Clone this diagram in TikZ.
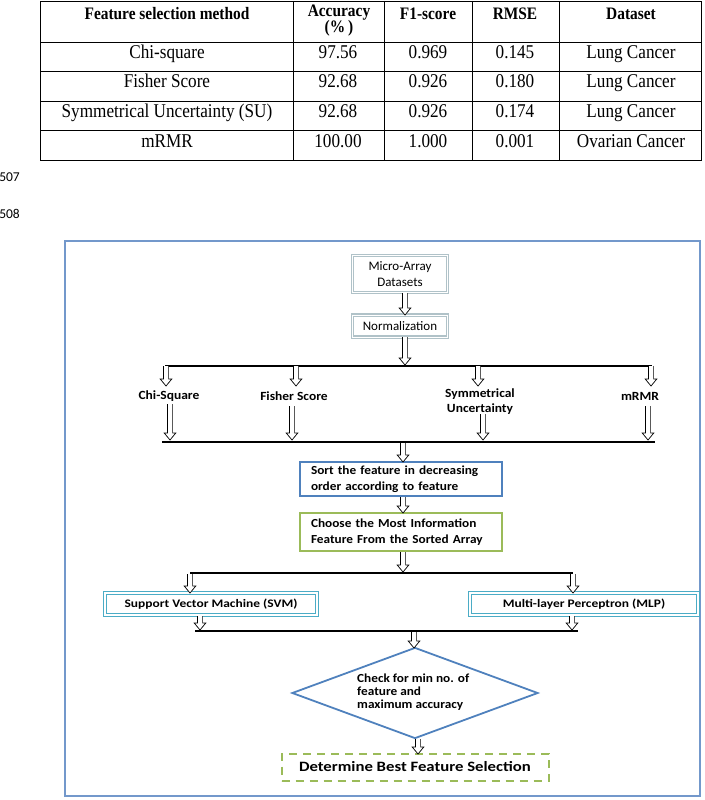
\documentclass[tikz,border=0pt]{standalone}
\usepackage{fontspec}
\setmainfont{Liberation Serif}
\newfontfamily\tabfont[FakeStretch=0.88]{Liberation Serif}
\newfontfamily\flowfont{Carlito}
\newfontfamily\flowwide[FakeStretch=1.08]{Carlito}
\newfontfamily\flowwider[FakeStretch=1.17]{Carlito}
\usetikzlibrary{calc,shapes.geometric}
\definecolor{frameblue}{HTML}{7398CB}
\definecolor{boxblue}{HTML}{4F81BD}
\definecolor{boxgreen}{HTML}{9BBB59}
\definecolor{boxteal}{HTML}{4BACC6}
\definecolor{boxgray}{HTML}{B0C2C8}
\tikzset{
  tabline/.style={line width=0.8pt, draw=black},
  tabbody/.style={font=\tabfont\fontsize{19.5}{20}\selectfont, anchor=base, inner sep=0},
  tabhead/.style={font=\tabfont\bfseries\fontsize{17.5}{16}\selectfont, anchor=base, inner sep=0, align=center},
  flowtxt/.style={font=\flowwide\bfseries\fontsize{12.5}{15}\selectfont, inner sep=0, align=center},
  flowreg/.style={font=\flowfont\fontsize{13}{16}\selectfont, align=center},
  graybox/.style={draw=boxgray, line width=1.3pt, double=white, double distance=1pt, fill=white, inner sep=0},
  bluebox/.style={draw=boxblue, line width=2pt, fill=white, inner sep=0, inner xsep=11pt, align=left,
     font=\flowwide\bfseries\fontsize{12.3}{16}\selectfont},
  greenbox/.style={bluebox, draw=boxgreen},
  tealbox/.style={draw=boxteal, line width=1.6pt, double=white, double distance=1.2pt, fill=white, inner sep=0,
     font=\flowwider\bfseries\fontsize{11.5}{15}\selectfont},
  bar/.style={line width=2.7pt, draw=black},
  harrow/.style={draw=black, line width=0.7pt, fill=white,
    to path={let \p1=(\tikztostart), \p2=(\tikztotarget) in
      (\x1-2.6pt,\y1) -- (\x1-2.6pt,\y2+7pt) -- (\x1-5.8pt,\y2+7pt) -- (\x1,\y2)
      -- (\x1+5.8pt,\y2+7pt) -- (\x1+2.6pt,\y2+7pt) -- (\x1+2.6pt,\y1)}}
}
\begin{document}
\begin{tikzpicture}[x=1pt,y=-1pt]
\useasboundingbox (0,0) rectangle (704,800);
% ---------- table ----------
\draw[tabline] (40,1) rectangle (701,160);
\foreach \yy in {42,71,101,130} \draw[tabline] (40,\yy) -- (701,\yy);
\foreach \xx in {293,384,472,559} \draw[tabline] (\xx,1) -- (\xx,160);
\node[tabhead] (h1) at (167,20) {Feature selection method};
\node[tabhead, anchor=north] (h2) at (339,5) {Accuracy\\(\%\,)};
\node[tabhead] (h3) at (428,20) {F1-score};
\node[tabhead] (h4) at (515,20) {RMSE};
\node[tabhead] (h5) at (631,20) {Dataset};
\node[tabbody] (r1a) at (167,59) {Chi-square};
\node[tabbody] (r1b) at (338,59) {97.56};
\node[tabbody] (r1c) at (428,59) {0.969};
\node[tabbody] (r1d) at (515,59) {0.145};
\node[tabbody] (r1e) at (631,59) {Lung Cancer};
\node[tabbody] (r2a) at (167,88) {Fisher Score};
\node[tabbody] (r2b) at (338,88) {92.68};
\node[tabbody] (r2c) at (428,88) {0.926};
\node[tabbody] (r2d) at (515,88) {0.180};
\node[tabbody] (r2e) at (631,88) {Lung Cancer};
\node[tabbody] (r3a) at (167,117) {Symmetrical Uncertainty (SU)};
\node[tabbody] (r3b) at (338,117) {92.68};
\node[tabbody] (r3c) at (428,117) {0.926};
\node[tabbody] (r3d) at (515,117) {0.174};
\node[tabbody] (r3e) at (631,117) {Lung Cancer};
\node[tabbody] (r4a) at (167,147) {mRMR};
\node[tabbody] (r4b) at (338,147) {100.00};
\node[tabbody] (r4c) at (428,147) {1.000};
\node[tabbody] (r4d) at (515,147) {0.001};
\node[tabbody] (r4e) at (631,147) {Ovarian Cancer};
% ---------- line numbers ----------
\node[font=\flowfont\fontsize{13.5}{14}\selectfont, anchor=east, inner sep=0] (l507) at (20,177) {507};
\node[font=\flowfont\fontsize{13.5}{14}\selectfont, anchor=east, inner sep=0] (l508) at (20,214) {508};
% ---------- flowchart frame ----------
\draw[frameblue, line width=1.3pt] (65,241) rectangle (700,796);
% boxes
\node[graybox, minimum width=95pt, minimum height=37pt, flowreg] (micro) at (400,274) {Micro-Array\\Datasets};
\node[graybox, minimum width=95pt, minimum height=22pt, flowreg] (norm) at (400,326) {Normalization};
\node[bluebox, minimum width=202pt, minimum height=34pt, text width=180pt] (sort) at (401,479)
  {Sort the feature in decreasing\\order according to feature};
\node[greenbox, minimum width=202pt, minimum height=38pt, text width=180pt] (choose) at (401,532)
  {Choose the Most Information\\Feature From the Sorted Array};
\node[tealbox, minimum width=212pt, minimum height=22pt] (svm) at (211,604) {Support Vector Machine (SVM)};
\node[tealbox, minimum width=228pt, minimum height=22pt] (mlp) at (584,604) {Multi-layer Perceptron (MLP)};
\node[diamond, draw=boxblue, line width=1.8pt, minimum width=246pt, minimum height=91pt, inner sep=0] (dia) at (415,693) {};
\node[flowtxt, align=left, anchor=west, font=\flowwide\bfseries\fontsize{12.3}{13}\selectfont] (diat) at (357,692)
  {Check for min no. of\\feature and\\maximum accuracy};
\node[draw=boxgreen, line width=2pt, dash pattern=on 8pt off 6pt, minimum width=267pt, minimum height=27pt,
  inner sep=0, font=\flowwider\bfseries\fontsize{14.3}{16}\selectfont] (best) at (415,767) {Determine Best Feature Selection};
% labels
\node[flowtxt] (chi) at (169,396) {Chi-Square};
\node[flowtxt] (fis) at (294,396) {Fisher Score};
\node[flowtxt] (sun) at (480,402) {Symmetrical\\Uncertainty};
\node[flowtxt] (mrm) at (640,396) {mRMR};
% bars
\coordinate (b1l) at (165,366); \coordinate (b1r) at (652,366);
\coordinate (b2l) at (162,442); \coordinate (b2r) at (655,442);
\coordinate (b3l) at (190,573); \coordinate (b3r) at (573,573);
\coordinate (b4l) at (195,631); \coordinate (b4r) at (578,631);
\draw[bar] (b1l) -- (b1r);
\draw[bar] (b2l) -- (b2r);
\draw[bar] (b3l) -- (b3r);
\draw[bar, line width=2.2pt] (b4l) -- (b4r);
% arrows
\coordinate (p1) at (405,293); \coordinate (q1) at (405,315);
\coordinate (p2) at (405,337); \coordinate (q2) at (405,365);
\draw[harrow] (p1) to (q1);
\draw[harrow] (p2) to (q2);
\coordinate (c1) at (166,366); \coordinate (d1) at (166,386);
\coordinate (c2) at (296,366); \coordinate (d2) at (296,386);
\coordinate (c3) at (478,366); \coordinate (d3) at (478,386);
\coordinate (c4) at (651,366); \coordinate (d4) at (651,386);
\draw[harrow] (c1) to (d1);
\draw[harrow] (c2) to (d2);
\draw[harrow] (c3) to (d3);
\draw[harrow] (c4) to (d4);
\coordinate (e1) at (170,404); \coordinate (f1) at (170,440);
\coordinate (e2) at (292,406); \coordinate (f2) at (292,440);
\coordinate (e3) at (483,414); \coordinate (f3) at (483,440);
\coordinate (e4) at (648,406); \coordinate (f4) at (648,440);
\draw[harrow] (e1) to (f1);
\draw[harrow] (e2) to (f2);
\draw[harrow] (e3) to (f3);
\draw[harrow] (e4) to (f4);
\coordinate (g1) at (403,443); \coordinate (h1c) at (403,462);
\draw[harrow] (g1) to (h1c);
\coordinate (g2) at (403,497); \coordinate (h2c) at (403,513);
\draw[harrow] (g2) to (h2c);
\coordinate (g3) at (403,552); \coordinate (h3c) at (403,572);
\draw[harrow] (g3) to (h3c);
\coordinate (i1) at (190,574); \coordinate (j1) at (190,593);
\coordinate (i2) at (573,574); \coordinate (j2) at (573,593);
\draw[harrow] (i1) to (j1);
\draw[harrow] (i2) to (j2);
\coordinate (k1) at (200,616); \coordinate (m1) at (200,630);
\coordinate (k2) at (572,616); \coordinate (m2) at (572,630);
\draw[harrow] (k1) to (m1);
\draw[harrow] (k2) to (m2);
\coordinate (n1) at (414,632); \coordinate (o1) at (414,648);
\draw[harrow] (n1) to (o1);
\coordinate (n2) at (418,739); \coordinate (o2) at (418,754);
\draw[harrow] (n2) to (o2);
\end{tikzpicture}
\end{document}
